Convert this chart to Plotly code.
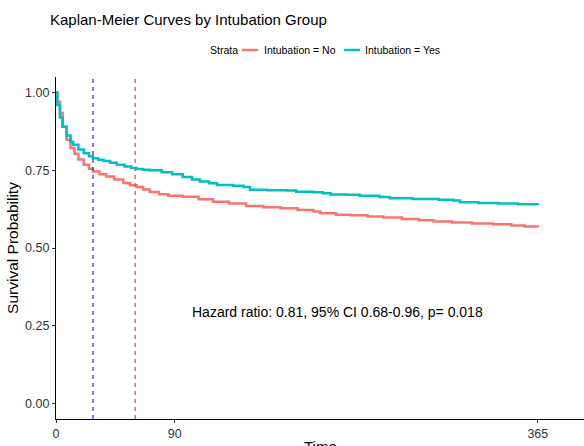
import plotly.graph_objects as go

# --- data (days, survival probability) ---
time_no = [0, 1, 3, 5, 8, 11, 14, 17, 21, 25, 28, 33, 38, 44, 51, 56, 61, 66, 71, 78, 85, 96, 108, 119, 131, 144, 157, 170, 183, 195, 200, 212, 223, 236, 248, 262, 275, 286, 300, 315, 331, 345, 355, 365]
surv_no = [1.0, 0.97, 0.934, 0.89, 0.848, 0.822, 0.803, 0.785, 0.768, 0.755, 0.746, 0.737, 0.730, 0.720, 0.709, 0.702, 0.696, 0.688, 0.680, 0.673, 0.668, 0.665, 0.657, 0.649, 0.643, 0.635, 0.631, 0.628, 0.622, 0.617, 0.612, 0.607, 0.605, 0.601, 0.598, 0.593, 0.589, 0.585, 0.582, 0.579, 0.576, 0.572, 0.569, 0.567]

time_yes = [0, 1, 3, 5, 8, 11, 13, 17, 21, 25, 28, 32, 36, 41, 46, 52, 57, 61, 66, 71, 80, 88, 96, 103, 109, 116, 122, 134, 142, 147, 160, 175, 182, 195, 202, 208, 220, 230, 245, 253, 270, 290, 301, 306, 320, 335, 350, 365]
surv_yes = [1.0, 0.96, 0.92, 0.89, 0.862, 0.842, 0.832, 0.817, 0.805, 0.795, 0.789, 0.784, 0.780, 0.774, 0.768, 0.762, 0.757, 0.754, 0.752, 0.750, 0.744, 0.737, 0.728, 0.720, 0.714, 0.708, 0.703, 0.700, 0.696, 0.687, 0.686, 0.685, 0.681, 0.679, 0.676, 0.672, 0.671, 0.668, 0.664, 0.660, 0.658, 0.655, 0.653, 0.647, 0.645, 0.643, 0.641, 0.639]

median_lines = [28, 60]
median_colors = ["#3b3bd0", "#d9595e"]

x_ticks = [0, 90, 365]
y_ticks = [0, 0.25, 0.5, 0.75, 1.0]
y_tick_labels = ["0.00", "0.25", "0.50", "0.75", "1.00"]

strata_names = ["Intubation = No", "Intubation = Yes"]
strata_colors = ["#F8766D", "#00BFC4"]

hr_text = "Hazard ratio: 0.81, 95% CI 0.68-0.96, p= 0.018"

FONT = "Liberation Sans, Arial, sans-serif"

fig = go.Figure()
for t, s, name, col in [(time_no, surv_no, strata_names[0], strata_colors[0]),
                        (time_yes, surv_yes, strata_names[1], strata_colors[1])]:
    fig.add_trace(go.Scatter(x=t, y=s, mode="lines", line=dict(color=col, width=2.5, shape="hv"),
                             name=name, showlegend=False))

for xv, col in zip(median_lines, median_colors):
    fig.add_shape(type="line", x0=xv, x1=xv, y0=-0.05, y1=1.05, xref="x", yref="y",
                  line=dict(color=col, width=1.3, dash="4px,4px"))

fig.add_annotation(x=213, y=0.295, xref="x", yref="y", text=hr_text, showarrow=False,
                   font=dict(family=FONT, size=14, color="black"))

# manual legend (pixels -> paper coords)
W, H = 584, 446
L, R, T, B = 56, 0, 77, 27
pw, ph = W - L - R, H - T - B
def px(x):
    return (x - L) / pw
def py(y):
    return (H - B - y) / ph

ly = 50
fig.add_annotation(x=px(208), y=py(ly), xref="paper", yref="paper", text="Strata", showarrow=False,
                   xanchor="left", yanchor="middle", font=dict(family=FONT, size=10.5, color="black"))
for (x0, x1, tx), name, col in zip([(242, 258, 262), (344, 360, 363)], strata_names, strata_colors):
    fig.add_shape(type="line", x0=px(x0), x1=px(x1), y0=py(ly), y1=py(ly), xref="paper", yref="paper",
                  line=dict(color=col, width=2.5))
    fig.add_annotation(x=px(tx), y=py(ly), xref="paper", yref="paper", text=name, showarrow=False,
                       xanchor="left", yanchor="middle", font=dict(family=FONT, size=10.5, color="black"))

# x-axis title (partially cut off at bottom like the reference)
fig.add_annotation(x=px(320), y=py(436), xref="paper", yref="paper", text="Time", showarrow=False,
                   xanchor="center", yanchor="top", font=dict(family=FONT, size=15, color="black"))

fig.update_layout(
    width=W, height=H,
    margin=dict(l=L, r=R, t=T, b=B),
    paper_bgcolor="white", plot_bgcolor="white",
    title=dict(text="Kaplan-Meier Curves by Intubation Group", x=50 / W, xanchor="left",
               y=(H - 20) / H, yanchor="middle", font=dict(family=FONT, size=15, color="black")),
    showlegend=False,
)

fig.update_xaxes(range=[0, 400], tickvals=x_ticks, ticktext=[str(v) for v in x_ticks],
                 showgrid=False, zeroline=False, showline=True, linecolor="black", linewidth=1.2,
                 ticks="outside", ticklen=3, tickcolor="#333333", tickfont=dict(family=FONT, size=12.5, color="#333333"),
                 automargin=False)
fig.update_yaxes(range=[-0.05, 1.05], tickvals=y_ticks, ticktext=y_tick_labels,
                 showgrid=False, zeroline=False, showline=True, linecolor="black", linewidth=1.2,
                 ticks="outside", ticklen=3, tickcolor="#333333", tickfont=dict(family=FONT, size=12.5, color="#333333"),
                 title=dict(text="Survival Probability", font=dict(family=FONT, size=15.5, color="black"), standoff=2),
                 automargin=False)

fig.write_html("out.html", post_script="document.body.style.margin='0';",
               config={"displayModeBar": False})
